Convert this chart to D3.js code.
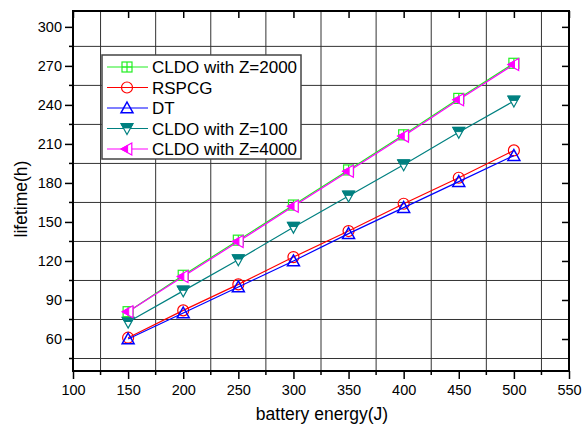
<!DOCTYPE html>
<html>
<head>
<meta charset="utf-8">
<script src="https://cdn.jsdelivr.net/npm/d3@7"></script>
<style>
  body { margin: 0; background: #fff; }
  text { font-family: "Liberation Sans", Arial, sans-serif; }
</style>
</head>
<body>
<div id="chart"></div>
<script>
const energy = [150, 200, 250, 300, 350, 400, 450, 500];
const z2000 = [81, 109, 136, 163, 190, 217, 245, 272];
const rspcg = [61, 82, 102, 123, 143, 164, 184, 205];
const dt = [60, 80, 100, 120, 141, 161, 181, 201];
const z100 = [73, 97, 121, 146, 170, 194, 219, 243];
const z4000 = [81, 108, 135, 162, 189, 216, 244, 271];
const xTicks = [100, 150, 200, 250, 300, 350, 400, 450, 500, 550];
const yTicks = [60, 90, 120, 150, 180, 210, 240, 270, 300];

const series = [
  { name: "CLDO with Z=2000", values: z2000, color: "#22ee22", marker: "sqplus" },
  { name: "RSPCG", values: rspcg, color: "#ff0000", marker: "circle" },
  { name: "DT", values: dt, color: "#0000ff", marker: "up" },
  { name: "CLDO with Z=100", values: z100, color: "#008080", marker: "down" },
  { name: "CLDO with Z=4000", values: z4000, color: "#ff00ff", marker: "left" }
];
// draw order: magenta on top of green
const drawOrder = [1, 2, 3, 0, 4];

const W = 582, H = 430;
const svg = d3.select("#chart").append("svg")
  .attr("width", W).attr("height", H);

const x = d3.scaleLinear().domain([100, 550]).range([73, 569]);
const y = d3.scaleLinear().domain([35.4, 312.2]).range([371, 11]);

const xMinor = d3.range(125, 550, 50);
const yMinor = d3.range(45, 312, 30);

// grid lines at minor positions
svg.append("g").selectAll("line.v")
  .data(xMinor).join("line")
  .attr("x1", d => x(d)).attr("x2", d => x(d))
  .attr("y1", y.range()[1]).attr("y2", y.range()[0])
  .attr("stroke", "#333").attr("stroke-width", 1);
svg.append("g").selectAll("line.h")
  .data(yMinor).join("line")
  .attr("y1", d => y(d)).attr("y2", d => y(d))
  .attr("x1", x.range()[0]).attr("x2", x.range()[1])
  .attr("stroke", "#333").attr("stroke-width", 1);

// axes
const fs = "14.5px";
const gBottom = svg.append("g").attr("transform", `translate(0,${y.range()[0]})`)
  .call(d3.axisBottom(x).tickValues(xTicks).tickSize(8).tickSizeOuter(0).tickPadding(6));
gBottom.append("g").selectAll("line").data(xMinor).join("line")
  .attr("x1", d => x(d)).attr("x2", d => x(d)).attr("y1", 0).attr("y2", 4)
  .attr("stroke", "#000").attr("stroke-width", 1.5);

const gLeft = svg.append("g").attr("transform", `translate(${x.range()[0]},0)`)
  .call(d3.axisLeft(y).tickValues(yTicks).tickSize(8).tickSizeOuter(0).tickPadding(3));
gLeft.append("g").selectAll("line").data(yMinor).join("line")
  .attr("y1", d => y(d)).attr("y2", d => y(d)).attr("x1", 0).attr("x2", -4)
  .attr("stroke", "#000").attr("stroke-width", 1.5);

const gTop = svg.append("g").attr("transform", `translate(0,${y.range()[1]})`)
  .call(d3.axisBottom(x).tickValues(xTicks).tickSize(7).tickSizeOuter(0).tickFormat(""));
const gRight = svg.append("g").attr("transform", `translate(${x.range()[1]},0)`)
  .call(d3.axisRight(y).tickValues(yTicks).tickSize(-7).tickSizeOuter(0).tickFormat(""));

[gBottom, gLeft, gTop, gRight].forEach(g => {
  g.select(".domain").remove();
  g.selectAll(".tick line").attr("stroke", "#000").attr("stroke-width", 1.5);
  g.selectAll("text").style("font-size", fs).attr("fill", "#000");
});

// frame
svg.append("rect")
  .attr("x", x.range()[0]).attr("y", y.range()[1])
  .attr("width", x.range()[1] - x.range()[0])
  .attr("height", y.range()[0] - y.range()[1])
  .attr("fill", "none").attr("stroke", "#000").attr("stroke-width", 2);

// markers
function drawMarker(g, type, color) {
  const s = 6;
  if (type === "circle") {
    g.append("circle").attr("r", 5.5).attr("fill", "none")
      .attr("stroke", color).attr("stroke-width", 1.2);
  } else if (type === "sqplus") {
    g.append("rect").attr("x", -5).attr("y", -5).attr("width", 10).attr("height", 10)
      .attr("fill", "none").attr("stroke", color).attr("stroke-width", 1.2);
    g.append("path").attr("d", "M-5,0H5M0,-5V5")
      .attr("stroke", color).attr("stroke-width", 1.2);
  } else if (type === "up") {
    g.append("path").attr("d", `M0,${-s}L${s},${s * 0.8}H${-s}Z`)
      .attr("fill", "none").attr("stroke", color).attr("stroke-width", 1.5);
  } else if (type === "down") {
    g.append("path").attr("d", `M0,${s}L${s},${-s * 0.8}H${-s}Z`)
      .attr("fill", "#fff").attr("stroke", color).attr("stroke-width", 1.2);
    g.append("path").attr("d", `M${-s},${-s * 0.8}H${s}L${s * 0.6},${-s * 0.1}H${-s * 0.6}Z`)
      .attr("fill", color).attr("stroke", color).attr("stroke-width", 1);
  } else if (type === "left") {
    g.append("path").attr("d", `M${-s},0L${s * 0.8},${-s}V${s}Z`)
      .attr("fill", "#fff").attr("stroke", color).attr("stroke-width", 1.2);
    g.append("path").attr("d", `M${-s},0L${s * 0.1},${-s * 0.6}V${s * 0.6}Z`)
      .attr("fill", color).attr("stroke", color).attr("stroke-width", 1);
  }
}

const line = d3.line().x((d, i) => x(energy[i])).y(d => y(d));

drawOrder.forEach(k => {
  const s = series[k];
  const g = svg.append("g");
  g.append("path").datum(s.values).attr("d", line)
    .attr("fill", "none").attr("stroke", s.color).attr("stroke-width", 1.2);
  g.selectAll("g.m").data(s.values).join("g")
    .attr("transform", (d, i) => `translate(${x(energy[i])},${y(d)})`)
    .each(function () { drawMarker(d3.select(this), s.marker, s.color); });
});

// legend
const lg = svg.append("g").attr("transform", "translate(102,55)");
lg.append("rect").attr("width", 199).attr("height", 104)
  .attr("fill", "#fff").attr("stroke", "#444").attr("stroke-width", 1.5);
series.forEach((s, i) => {
  const row = lg.append("g").attr("transform", `translate(0,${12 + i * 20.5})`);
  row.append("line").attr("x1", 5).attr("x2", 46).attr("y1", 0).attr("y2", 0)
    .attr("stroke", s.color).attr("stroke-width", 1.2);
  drawMarker(row.append("g").attr("transform", "translate(25,0)"), s.marker, s.color);
  row.append("text").attr("x", 50).attr("y", 6).style("font-size", "17px")
    .attr("fill", "#000").text(s.name);
});

// axis titles
svg.append("text").attr("x", 322).attr("y", 420).attr("text-anchor", "middle")
  .style("font-size", "17.5px").text("battery energy(J)");
svg.append("text").attr("transform", "translate(27,199) rotate(-90)")
  .attr("text-anchor", "middle").style("font-size", "17.5px").text("lifetime(h)");
</script>
</body>
</html>
